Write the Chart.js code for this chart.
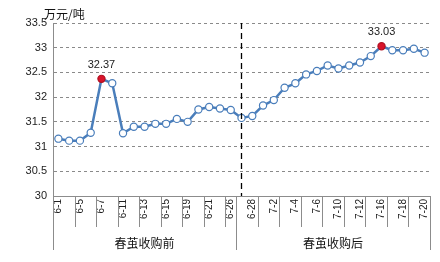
<!DOCTYPE html>
<html>
<head>
<meta charset="utf-8">
<script src="https://cdn.jsdelivr.net/npm/chart.js@4"></script>
<style>
  html, body { margin: 0; padding: 0; background: #fff; }
  #wrap { width: 440px; height: 262px; }
</style>
</head>
<body>
<div id="wrap"><canvas id="c" width="440" height="262"></canvas></div>
<script>
const dates = ['6-1','6-4','6-5','6-6','6-7','6-8','6-11','6-12','6-13','6-14','6-15','6-18','6-19','6-20','6-21','6-25','6-26',
  '6-27','6-28','6-29','7-2','7-3','7-4','7-5','7-6','7-9','7-10','7-11','7-12','7-13','7-16','7-17','7-18','7-19','7-20'];
const prices = [31.16, 31.12, 31.12, 31.28, 32.37, 32.28, 31.27, 31.40, 31.40, 31.46, 31.46, 31.56, 31.50, 31.75, 31.80, 31.77, 31.74,
  31.58, 31.62, 31.83, 31.94, 32.19, 32.28, 32.46, 32.53, 32.64, 32.58, 32.64, 32.70, 32.83, 33.03, 32.95, 32.95, 32.98, 32.90];
const groupNames = ['春茧收购前', '春茧收购后'];
const groupSizes = [17, 18];
const peakDates = ['6-7', '7-16'];
const splitDate = '6-27';
const yRange = [30, 33.5];
const unitLabel = '万元/吨';

const BLUE = '#4a7ebb';
const RED = '#d9142b';
const GRID = '#8a8a8a';
const AXIS = '#8c8c8c';
const NUMFONT = '"Liberation Sans", Arial, sans-serif';
const CJKFONT = '"Noto Sans CJK SC", sans-serif';

const peakIdx = peakDates.map(d => dates.indexOf(d));
const splitIdx = dates.indexOf(splitDate);

// extra drawing: split line, peak labels, grouped category axis, unit title
const extras = {
  id: 'extras',
  afterDatasetsDraw(chart) {
    const { ctx, chartArea, scales: { x } } = chart;
    const meta = chart.getDatasetMeta(0);

    // dashed split line
    const sx = x.getPixelForValue(splitIdx);
    ctx.save();
    ctx.strokeStyle = '#000';
    ctx.lineWidth = 1.3;
    ctx.setLineDash([6, 4]);
    ctx.beginPath();
    ctx.moveTo(sx, chartArea.top);
    ctx.lineTo(sx, chartArea.bottom);
    ctx.stroke();
    ctx.restore();

    // peak value labels
    ctx.save();
    ctx.font = '11px ' + NUMFONT;
    ctx.fillStyle = '#222';
    ctx.textAlign = 'center';
    ctx.textBaseline = 'middle';
    peakIdx.forEach(i => {
      const p = meta.data[i];
      ctx.fillText(prices[i].toFixed(2), p.x, p.y - 14);
    });
    ctx.restore();
  },
  afterDraw(chart) {
    const { ctx, chartArea, scales: { x } } = chart;
    const half = (x.getPixelForValue(1) - x.getPixelForValue(0)) / 2;
    const edge = i => x.getPixelForValue(i) + half; // right edge of category i
    const top = chartArea.bottom;

    ctx.save();
    ctx.strokeStyle = AXIS;
    ctx.lineWidth = 1;
    const vline = (px, y2) => {
      const xx = Math.round(px) + 0.5;
      ctx.beginPath();
      ctx.moveTo(xx, top);
      ctx.lineTo(xx, y2);
      ctx.stroke();
    };

    let start = 0;
    vline(x.getPixelForValue(0) - half, 250);
    groupSizes.forEach((n, g) => {
      for (let k = start + 1; k < start + n - 1; k += 2) vline(edge(k), 227);
      vline(edge(start + n - 1), 250);
      const cx = (x.getPixelForValue(start) - half + edge(start + n - 1)) / 2;
      ctx.font = '12px ' + CJKFONT;
      ctx.fillStyle = '#111';
      ctx.textAlign = 'center';
      ctx.textBaseline = 'middle';
      ctx.fillText(groupNames[g], cx, 243);
      start += n;
    });

    ctx.font = '12px ' + CJKFONT;
    ctx.fillStyle = '#111';
    ctx.textAlign = 'left';
    ctx.textBaseline = 'middle';
    ctx.fillText(unitLabel, 44, 14);
    ctx.restore();
  }
};

new Chart(document.getElementById('c'), {
  type: 'line',
  data: {
    labels: dates,
    datasets: [{
      data: prices,
      borderColor: BLUE,
      borderWidth: 2.5,
      tension: 0,
      pointRadius: 3.6,
      pointBorderWidth: 1.2,
      pointBackgroundColor: prices.map((v, i) => peakIdx.includes(i) ? RED : '#fff'),
      pointBorderColor: prices.map((v, i) => peakIdx.includes(i) ? '#b01020' : BLUE)
    }]
  },
  options: {
    responsive: false,
    animation: false,
    layout: { padding: { top: 23, right: 10, left: 0, bottom: 0 } },
    plugins: { legend: { display: false }, tooltip: { enabled: false } },
    scales: {
      x: {
        offset: true,
        grid: { display: false, drawTicks: false },
        border: { display: true, color: AXIS, width: 1 },
        afterFit: s => { s.height = 66; },
        ticks: {
          autoSkip: false,
          maxRotation: 90,
          minRotation: 90,
          padding: 3,
          color: '#222',
          font: { size: 10, family: NUMFONT },
          callback: (v, i) => i % 2 === 0 ? dates[i] : ''
        }
      },
      y: {
        min: yRange[0],
        max: yRange[1],
        afterFit: s => { s.width = 53; },
        grid: {
          drawTicks: false,
          color: ctx => ctx.tick && ctx.tick.value === yRange[0] ? 'rgba(0,0,0,0)' : GRID,
          lineWidth: 1
        },
        border: { display: true, color: AXIS, width: 1, dash: [3, 3] },
        ticks: {
          stepSize: 0.5,
          padding: 6,
          color: '#222',
          font: { size: 11, family: NUMFONT },
          callback: v => String(Number(v.toFixed(1)))
        }
      }
    }
  },
  plugins: [extras]
});
</script>
</body>
</html>
